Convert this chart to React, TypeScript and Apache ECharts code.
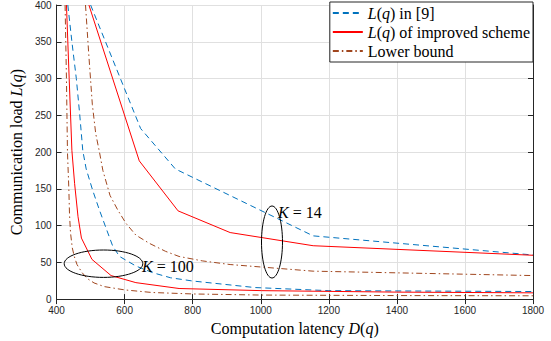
import React, { useEffect, useRef } from 'react';
import * as echarts from 'echarts';

// K = 14 curves
const refK14X = [500, 647, 749, 1154, 1800];
const refK14Y = [400, 232, 177, 86, 60];
const impK14X = [495, 643, 757, 910, 1154, 1800];
const impK14Y = [400, 188, 120, 90.5, 72.6, 59.6];
const lowK14X = [485, 495, 505, 515, 526, 536, 557, 580, 604, 633, 672, 720, 760, 828, 910, 1154, 1800];
const lowK14Y = [400, 330, 265, 225, 200, 175, 141, 121, 103, 87, 76, 65, 58, 52, 47, 38, 32];
// K = 100 curves
const refK100X = [433, 445, 458, 468, 477, 487, 506, 526, 545, 565, 585, 633, 682, 735, 800, 983, 1198, 1800];
const refK100Y = [400, 350, 300, 251, 202, 177, 148, 121, 97, 72, 58, 45, 36, 29, 24.6, 15.7, 11.5, 10.3];
const impK100X = [429, 437, 445, 453, 463, 473, 504, 560, 633, 760, 1003, 1400, 1800];
const impK100Y = [400, 300, 202, 157, 112, 83, 54, 32, 22.4, 14.4, 11.5, 9.5, 8.5];
const lowK100X = [425, 429, 432, 436, 438, 441, 446, 452, 460, 475, 490, 510, 540, 600, 680, 800, 1000, 1400, 1800];
const lowK100Y = [400, 300, 200, 150, 115, 90, 70, 58, 47, 36, 28, 22, 17, 12.5, 9, 7, 5.5, 4.8, 4.5];

const seriesNames = ['ref', 'imp', 'low'];
const legendLabels: Record<string, string> = {
  ref: '{i|L}{r|(}{i|q}{r|) in [9]}',
  imp: '{i|L}{r|(}{i|q}{r|) of improved scheme}',
  low: '{r|Lower bound}',
};

const SERIF = '"Liberation Serif", "Times New Roman", serif';
const SANS = '"Liberation Sans", Arial, sans-serif';
const BLUE = '#0072BD';
const RED = '#FF0000';
const BROWN = '#A0461E';

const zip = (xs: number[], ys: number[]) => xs.map((x, i) => [x, ys[i]]);

function richFor(size: number) {
  return {
    r: { fontFamily: SERIF, fontSize: size, color: '#000', lineHeight: size },
    i: { fontFamily: SERIF, fontSize: size, color: '#000', fontStyle: 'italic', lineHeight: size },
  };
}

export default function App() {
  const ref = useRef<HTMLDivElement>(null);
  useEffect(() => {
    if (!ref.current) return;
    const chart = echarts.init(ref.current, undefined, { renderer: 'svg' });
    const lineSeries = (name: string, data: number[][], color: string, type: any) => ({
      type: 'line',
      name,
      data,
      symbol: 'none',
      clip: true,
      lineStyle: { color, width: 1, type },
      itemStyle: { color },
    });
    const dash = [6, 4];
    const dashDot = [6, 3, 1.5, 3];
    const serifText = (size: number) => ({ fontFamily: SERIF, fontSize: size, color: '#000', rich: richFor(size) });
    chart.setOption({
      animation: false,
      backgroundColor: '#fff',
      grid: { left: 54, right: 18, top: 3, bottom: 41, containLabel: false },
      xAxis: [
        {
          type: 'value', min: 400, max: 1800, interval: 200,
          name: '{r|Computation latency }{i|D}{r|(}{i|q}{r|)}',
          nameLocation: 'middle', nameGap: 18,
          nameTextStyle: serifText(16),
          axisLine: { show: true, lineStyle: { color: '#262626', width: 1 } },
          axisTick: { show: true, inside: true, length: 5, lineStyle: { color: '#262626' } },
          axisLabel: { color: '#262626', fontFamily: SANS, fontSize: 10, margin: 6, formatter: (v: number) => String(v) },
          splitLine: { show: true, lineStyle: { color: '#E0E0E0', width: 1 } },
        },
        {
          type: 'value', min: 400, max: 1800, interval: 200, position: 'top',
          axisLine: { show: true, lineStyle: { color: '#262626', width: 1 } },
          axisTick: { show: true, inside: true, length: 5, lineStyle: { color: '#262626' } },
          axisLabel: { show: false },
          splitLine: { show: false },
        },
      ],
      yAxis: [
        {
          type: 'value', min: 0, max: 400, interval: 50,
          name: '{r|Communication load }{i|L}{r|(}{i|q}{r|)}',
          nameLocation: 'middle', nameGap: 28,
          nameTextStyle: serifText(16),
          axisLine: { show: true, lineStyle: { color: '#262626', width: 1 } },
          axisTick: { show: true, inside: true, length: 5, lineStyle: { color: '#262626' } },
          axisLabel: { color: '#262626', fontFamily: SANS, fontSize: 10, margin: 5, formatter: (v: number) => String(v) },
          splitLine: { show: true, lineStyle: { color: '#E0E0E0', width: 1 } },
        },
        {
          type: 'value', min: 0, max: 400, interval: 50, position: 'right',
          axisLine: { show: true, lineStyle: { color: '#262626', width: 1 } },
          axisTick: { show: true, inside: true, length: 5, lineStyle: { color: '#262626' } },
          axisLabel: { show: false },
          splitLine: { show: false },
        },
      ],
      legend: {
        data: seriesNames,
        orient: 'vertical',
        right: 18,
        top: 2,
        itemWidth: 30,
        itemHeight: 14,
        itemGap: 3,
        padding: [3, 3, 3, 2],
        borderColor: '#262626',
        borderWidth: 1,
        borderRadius: 0,
        backgroundColor: '#fff',
        itemStyle: { opacity: 0 },
        formatter: (name: string) => legendLabels[name],
        textStyle: serifText(16),
      },
      series: [
        lineSeries('ref', zip(refK14X, refK14Y), BLUE, dash),
        lineSeries('imp', zip(impK14X, impK14Y), RED, 'solid'),
        lineSeries('low', zip(lowK14X, lowK14Y), BROWN, dashDot),
        lineSeries('ref', zip(refK100X, refK100Y), BLUE, dash),
        lineSeries('imp', zip(impK100X, impK100Y), RED, 'solid'),
        lineSeries('low', zip(lowK100X, lowK100Y), BROWN, dashDot),
      ],
      graphic: [
        { type: 'ellipse', shape: { cx: 272, cy: 242, rx: 10.5, ry: 36 }, style: { fill: 'none', stroke: '#000', lineWidth: 1 }, z: 100 },
        { type: 'ellipse', shape: { cx: 103.5, cy: 263.7, rx: 39.3, ry: 13.7 }, style: { fill: 'none', stroke: '#000', lineWidth: 1 }, z: 100 },
        { type: 'text', x: 278, y: 212, style: { text: '{i|K}{r| = 14}', fontFamily: SERIF, fontSize: 16, rich: richFor(16), verticalAlign: 'middle', align: 'left' }, z: 100 },
        { type: 'text', x: 142, y: 266, style: { text: '{i|K}{r| = 100}', fontFamily: SERIF, fontSize: 16, rich: richFor(16), verticalAlign: 'middle', align: 'left' }, z: 100 },
      ],
    });
    return () => chart.dispose();
  }, []);
  return <div ref={ref} style={{ position: 'fixed', left: 0, top: 0, width: 551, height: 341 }} />;
}
